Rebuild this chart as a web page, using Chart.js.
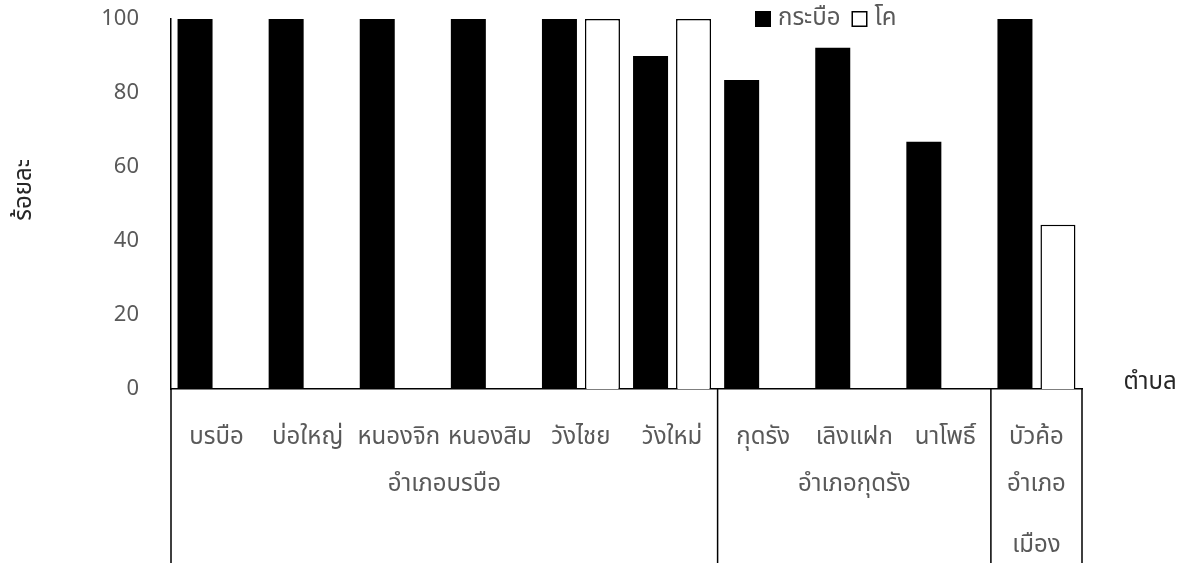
<!DOCTYPE html>
<html>
<head>
<meta charset="utf-8">
<script src="https://cdn.jsdelivr.net/npm/chart.js@4.4.0/dist/chart.umd.min.js"></script>
<style>
  html, body { margin: 0; padding: 0; background: #fff; }
  #wrap { width: 1197px; height: 563px; }
</style>
</head>
<body>
<div id="wrap"><canvas id="chart" width="1197" height="563"></canvas></div>
<script>
const chartCanvas = document.getElementById("chart");

// sub-district (ตำบล) names and the district (อำเภอ) each one belongs to
const subdistricts = ["บรบือ", "บ่อใหญ่", "หนองจิก", "หนองสิม", "วังไชย", "วังใหม่",
                      "กุดรัง", "เลิงแฝก", "นาโพธิ์", "บัวค้อ"];
const districts = [
    { name: ["อำเภอบรบือ"], from: 0, to: 5 },
    { name: ["อำเภอกุดรัง"], from: 6, to: 8 },
    { name: ["อำเภอ", "เมือง"], from: 9, to: 9 }
];

// percentages per sub-district
const buffalo = [100, 100, 100, 100, 100, 90, 83.5, 92.2, 66.8, 100];
const cattle = [0, 0, 0, 0, 100, 100, 0, 0, 0, 44.4];

const yTicks = [0, 20, 40, 60, 80, 100];

const fontFamily = '"Noto Sans", "Noto Sans Thai", sans-serif';
const thaiSize = 24;
const gray = '#595959';

// draws the district row, separators, axis titles and the legend
const extras = {
    id: 'extras',
    afterDraw(chart) {
        const ctx = chart.ctx;
        const x = chart.scales.x;
        const area = chart.chartArea;
        const step = x.width / subdistricts.length;
        const edge = i => x.getPixelForValue(i) - step / 2;

        ctx.save();
        ctx.strokeStyle = '#000';
        ctx.lineWidth = 1.5;
        ctx.beginPath();
        ctx.moveTo(area.left, area.bottom);
        ctx.lineTo(area.left, chart.height);
        districts.forEach(d => {
            const r = edge(d.to + 1);
            ctx.moveTo(r, area.bottom);
            ctx.lineTo(r, chart.height);
        });
        ctx.stroke();

        ctx.font = thaiSize + 'px ' + fontFamily;
        ctx.fillStyle = gray;
        ctx.textAlign = 'center';
        ctx.textBaseline = 'middle';
        districts.forEach(d => {
            const cx = (edge(d.from) + edge(d.to + 1)) / 2;
            d.name.forEach((line, k) => ctx.fillText(line, cx, 484 + k * 61));
        });

        // axis titles
        ctx.fillStyle = '#262626';
        ctx.fillText('ตำบล', 1150, 382);
        ctx.save();
        ctx.translate(24, 190);
        ctx.rotate(-Math.PI / 2);
        ctx.fillText('ร้อยละ', 0, 0);
        ctx.restore();

        // legend
        let lx = 755;
        ctx.textAlign = 'left';
        chart.data.datasets.forEach(ds => {
            ctx.fillStyle = ds.backgroundColor;
            ctx.fillRect(lx, 11, 16, 16);
            ctx.strokeStyle = '#000';
            ctx.lineWidth = 1.5;
            ctx.strokeRect(lx + 0.75, 11.75, 14.5, 14.5);
            ctx.fillStyle = gray;
            ctx.fillText(ds.label, lx + 23, 18);
            lx += 23 + ctx.measureText(ds.label).width + 11;
        });
        ctx.restore();
    }
};

const barBorder = c => (c.raw > 0 ? 1.5 : 0);

let chart = new Chart(chartCanvas, {
    type: 'bar',
    data: {
        labels: subdistricts,
        datasets: [
            {
                label: 'กระบือ',
                data: buffalo,
                backgroundColor: '#000',
                borderColor: '#000',
                borderWidth: 0,
                barPercentage: 0.814,
                categoryPercentage: 0.944
            },
            {
                label: 'โค',
                data: cattle,
                backgroundColor: '#fff',
                borderColor: '#000',
                borderWidth: barBorder,
                barPercentage: 0.814,
                categoryPercentage: 0.944
            }
        ]
    },
    options: {
        responsive: false,
        animation: false,
        layout: { padding: { top: 19, right: 115, left: 0, bottom: 0 } },
        scales: {
            x: {
                offset: true,
                grid: { display: false, drawTicks: false },
                border: { display: true, color: '#000', width: 1.5 },
                ticks: {
                    color: gray,
                    font: { family: fontFamily, size: thaiSize },
                    padding: 34,
                    maxRotation: 0,
                    autoSkip: false
                },
                afterFit: s => {
                    s.height = 174;
                    s.paddingLeft = 0;
                    s.paddingRight = 0;
                }
            },
            y: {
                min: 0,
                max: 100,
                afterBuildTicks: s => { s.ticks = yTicks.map(v => ({ value: v })); },
                grid: { display: false, drawTicks: false },
                border: { display: true, color: '#000', width: 1.5 },
                ticks: {
                    color: gray,
                    font: { family: fontFamily, size: 22 },
                    padding: 32
                },
                afterFit: s => {
                    s.width = 171;
                    s.paddingTop = 0;
                    s.paddingBottom = 0;
                }
            }
        },
        plugins: {
            legend: { display: false },
            tooltip: { enabled: false }
        }
    },
    plugins: [extras]
});
</script>
</body>
</html>
